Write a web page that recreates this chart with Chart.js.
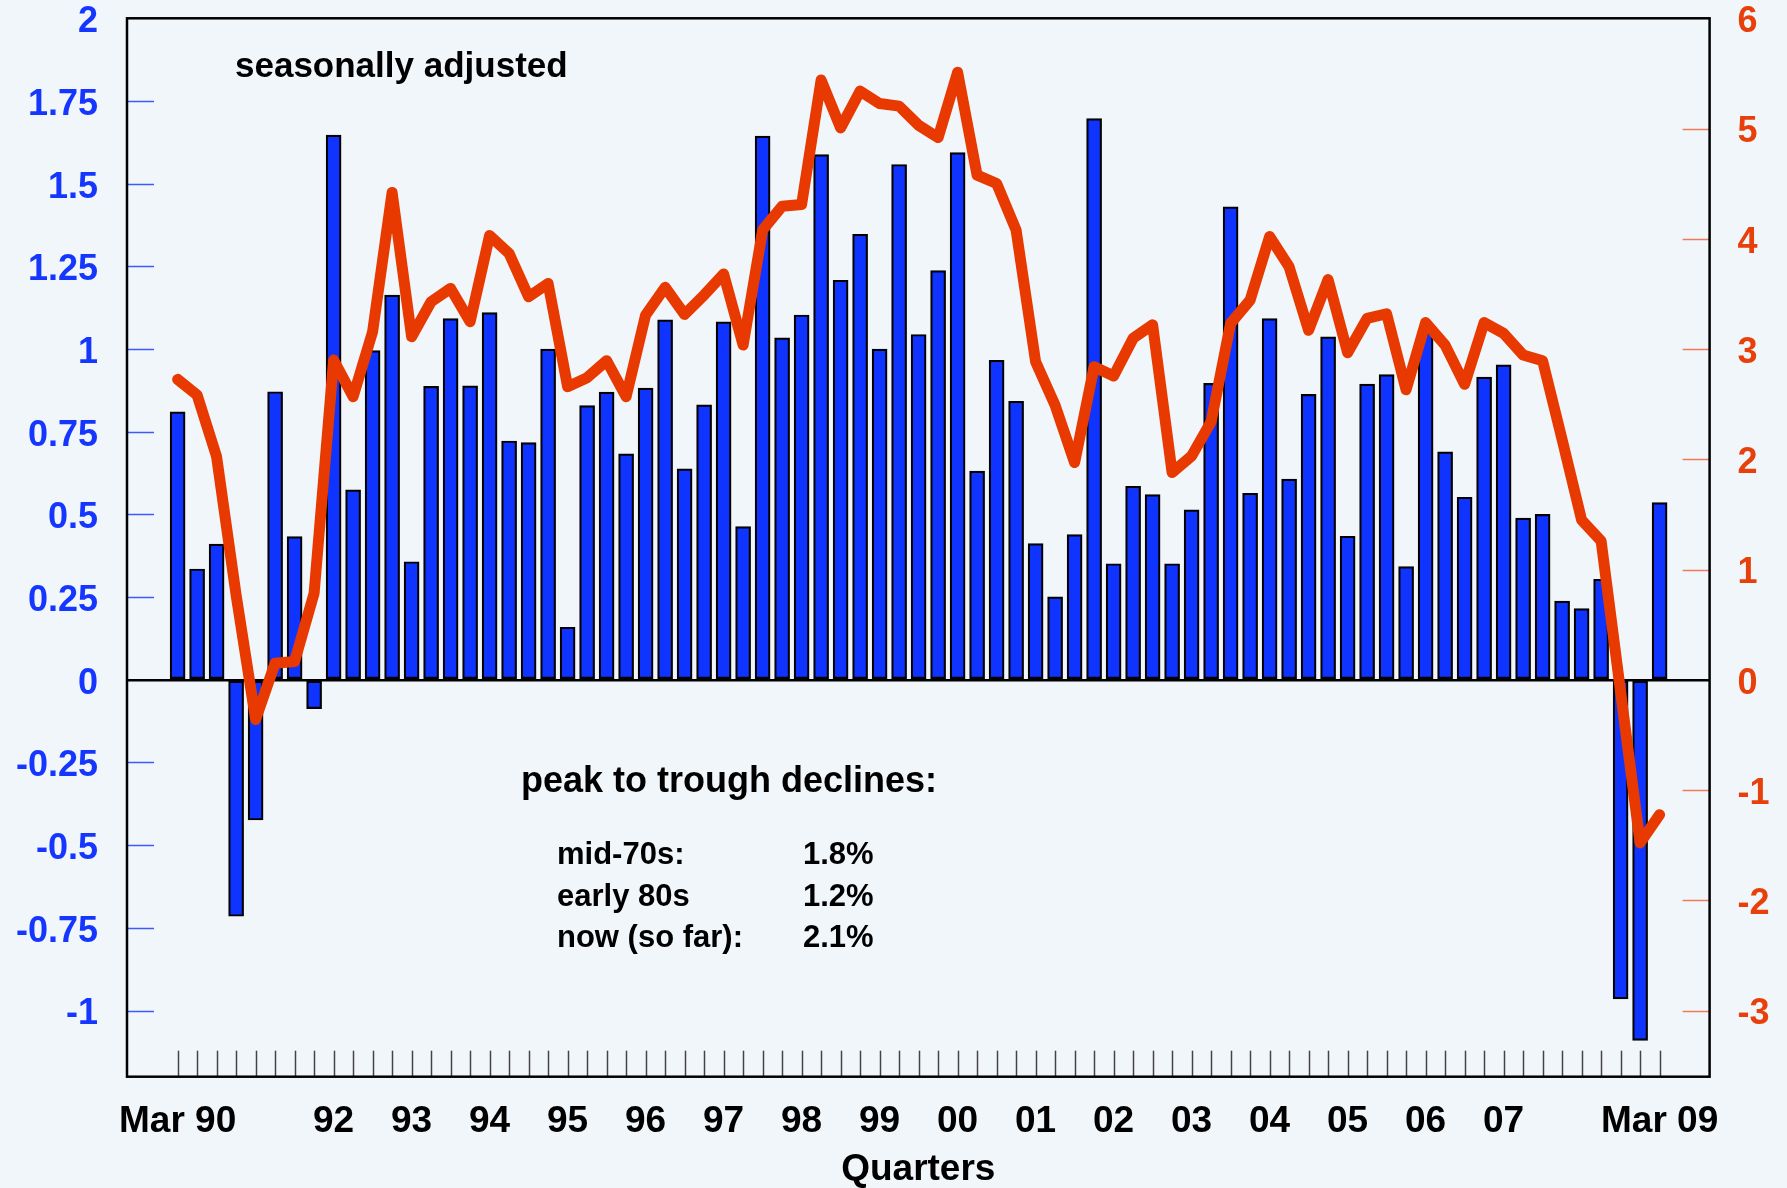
<!DOCTYPE html>
<html>
<head>
<meta charset="utf-8">
<script src="https://cdn.jsdelivr.net/npm/chart.js@4/dist/chart.umd.min.js"></script>
<style>
html,body{margin:0;padding:0;background:#f1f6fb;}
#wrap{width:1787px;height:1188px;position:relative;}
</style>
</head>
<body>
<div id="wrap"><canvas id="c" width="1787" height="1188"></canvas></div>
<script>
// ---- categories (quarters) ----
const quarters = [
 'Mar 90','Jun 90','Sep 90','Dec 90','Mar 91','Jun 91','Sep 91','Dec 91',
 'Mar 92','Jun 92','Sep 92','Dec 92','Mar 93','Jun 93','Sep 93','Dec 93',
 'Mar 94','Jun 94','Sep 94','Dec 94','Mar 95','Jun 95','Sep 95','Dec 95',
 'Mar 96','Jun 96','Sep 96','Dec 96','Mar 97','Jun 97','Sep 97','Dec 97',
 'Mar 98','Jun 98','Sep 98','Dec 98','Mar 99','Jun 99','Sep 99','Dec 99',
 'Mar 00','Jun 00','Sep 00','Dec 00','Mar 01','Jun 01','Sep 01','Dec 01',
 'Mar 02','Jun 02','Sep 02','Dec 02','Mar 03','Jun 03','Sep 03','Dec 03',
 'Mar 04','Jun 04','Sep 04','Dec 04','Mar 05','Jun 05','Sep 05','Dec 05',
 'Mar 06','Jun 06','Sep 06','Dec 06','Mar 07','Jun 07','Sep 07','Dec 07',
 'Mar 08','Jun 08','Sep 08','Dec 08','Mar 09'
];

// ---- quarterly growth (%), left axis, bars ----
const quarterlyGrowth = [
 0.81, 0.335, 0.41, -0.715, -0.424, 0.871, 0.433, -0.087,
 1.647, 0.574, 0.995, 1.163, 0.357, 0.887, 1.092, 0.889,
 1.11, 0.722, 0.717, 1.0, 0.159, 0.829, 0.870, 0.683,
 0.882, 1.088, 0.638, 0.831, 1.082, 0.463, 1.644, 1.034,
 1.103, 1.588, 1.208, 1.347, 1.0, 1.558, 1.044, 1.237,
 1.594, 0.631, 0.966, 0.842, 0.412, 0.251, 0.439, 1.697,
 0.351, 0.585, 0.560, 0.351, 0.514, 0.896, 1.43, 0.564,
 1.092, 0.607, 0.863, 1.037, 0.434, 0.894, 0.923, 0.342,
 1.05, 0.689, 0.552, 0.915, 0.952, 0.489, 0.50, 0.238,
 0.215, 0.304, -0.965, -1.09, 0.536
];

// ---- annual growth (%), right axis, line ----
const annualGrowth = [
 2.725, 2.583, 2.024, 0.77, -0.36, 0.151, 0.166, 0.786,
 2.90, 2.568, 3.157, 4.42, 3.112, 3.429, 3.55, 3.248,
 4.03, 3.867, 3.474, 3.595, 2.659, 2.74, 2.894, 2.568,
 3.308, 3.56, 3.314, 3.49, 3.68, 3.036, 4.079, 4.296,
 4.311, 5.44, 5.006, 5.34, 5.227, 5.203, 5.03, 4.918,
 5.51, 4.577, 4.502, 4.079, 2.885, 2.49, 1.97, 2.84,
 2.755, 3.097, 3.22, 1.88, 2.03, 2.341, 3.233, 3.444,
 4.02, 3.746, 3.17, 3.63, 2.967, 3.278, 3.32, 2.63,
 3.24, 3.036, 2.68, 3.24, 3.142, 2.946, 2.894, 2.18,
 1.45, 1.26, -0.11, -1.48, -1.224
];

// ---- tick definitions ----
const xTickIndex  = [0, 8, 12, 16, 20, 24, 28, 32, 36, 40, 44, 48, 52, 56, 60, 64, 68, 76];
const xTickLabels = ['Mar 90','92','93','94','95','96','97','98','99','00','01','02','03','04','05','06','07','Mar 09'];
const leftTickValues = [-1, -0.75, -0.5, -0.25, 0, 0.25, 0.5, 0.75, 1, 1.25, 1.5, 1.75, 2];
const leftTickLabels = ['-1','-0.75','-0.5','-0.25','0','0.25','0.5','0.75','1','1.25','1.5','1.75','2'];
const rightTickValues = [-3, -2, -1, 0, 1, 2, 3, 4, 5, 6];
const rightTickLabels = ['-3','-2','-1','0','1','2','3','4','5','6'];

// ---- annotation text ----
const noteTitle = 'seasonally adjusted';
const declinesTitle = 'peak to trough declines:';
const declinePeriods = ['mid-70s:', 'early 80s', 'now (so far):'];
const declineValues = ['1.8%', '1.2%', '2.1%'];

const FONT = '"Liberation Sans", Arial, Helvetica, sans-serif';
const BLUE = '#1034ff';
const RED = '#e83a00';

const bgPlugin = {
  id: 'bg',
  beforeDraw(chart) {
    const ctx = chart.ctx;
    ctx.save();
    ctx.fillStyle = '#f1f6fb';
    ctx.fillRect(0, 0, chart.width, chart.height);
    ctx.restore();
  }
};

const innerTicks = {
  id: 'innerTicks',
  beforeDatasetsDraw(chart) {
    const {ctx, chartArea: a, scales} = chart;
    ctx.save();
    ctx.lineWidth = 1.5;
    ctx.strokeStyle = '#3a5cff';
    scales.y.ticks.forEach(t => {
      if (t.value === 0 || t.value === 2) return;
      const y = Math.round(scales.y.getPixelForValue(t.value)) + 0.5;
      ctx.beginPath(); ctx.moveTo(a.left, y); ctx.lineTo(a.left + 27, y); ctx.stroke();
    });
    ctx.strokeStyle = '#f07a5a';
    scales.y2.ticks.forEach(t => {
      if (t.value === 0 || t.value === 6) return;
      const y = Math.round(scales.y2.getPixelForValue(t.value)) + 0.5;
      ctx.beginPath(); ctx.moveTo(a.right, y); ctx.lineTo(a.right - 27, y); ctx.stroke();
    });
    ctx.strokeStyle = '#444';
    quarters.forEach((q, i) => {
      const x = Math.round(scales.x.getPixelForValue(i)) + 0.5;
      ctx.beginPath(); ctx.moveTo(x, a.bottom); ctx.lineTo(x, a.bottom - 26); ctx.stroke();
    });
    ctx.restore();
  },
  afterDatasetsDraw(chart) {
    const {ctx, chartArea: a} = chart;
    ctx.save();
    ctx.strokeStyle = '#000';
    ctx.lineWidth = 2.5;
    ctx.strokeRect(a.left, a.top, a.right - a.left, a.bottom - a.top);
    ctx.restore();
  }
};

const notes = {
  id: 'notes',
  afterDraw(chart) {
    const ctx = chart.ctx;
    ctx.save();
    ctx.fillStyle = '#000';
    ctx.textBaseline = 'alphabetic';
    ctx.textAlign = 'left';
    ctx.font = 'bold 35px ' + FONT;
    ctx.fillText(noteTitle, 235, 77);
    ctx.font = 'bold 36px ' + FONT;
    ctx.fillText(declinesTitle, 521, 792);
    ctx.font = 'bold 31px ' + FONT;
    const base = [864, 905.5, 947];
    declinePeriods.forEach((p, k) => {
      ctx.fillText(p, 557, base[k]);
      ctx.fillText(declineValues[k], 803, base[k]);
    });
    ctx.restore();
  }
};

function fixVertical(w) {
  return s => { s.width = w; s.paddingTop = 0; s.paddingBottom = 0; };
}

new Chart(document.getElementById('c'), {
  type: 'bar',
  data: {
    datasets: [
      {
        type: 'line',
        label: 'annual',
        data: annualGrowth.map((v, i) => ({x: i, y: v})),
        yAxisID: 'y2',
        xAxisID: 'x',
        borderColor: RED,
        borderWidth: 11,
        borderCapStyle: 'round',
        borderJoinStyle: 'round',
        pointRadius: 0,
        tension: 0,
        fill: false,
        order: 0
      },
      {
        type: 'bar',
        label: 'quarterly',
        data: quarterlyGrowth.map((v, i) => ({x: i, y: v})),
        yAxisID: 'y',
        xAxisID: 'x',
        backgroundColor: BLUE,
        borderColor: '#000',
        borderWidth: 2.2,
        borderSkipped: false,
        barThickness: 15,
        order: 1
      }
    ]
  },
  options: {
    responsive: false,
    animation: false,
    devicePixelRatio: 1,
    layout: { padding: { top: 18.3, left: 0, right: 0, bottom: 0 } },
    plugins: { legend: { display: false }, tooltip: { enabled: false }, title: { display: false } },
    scales: {
      x: {
        type: 'linear',
        position: 'bottom',
        min: -2.595,
        max: 78.564,
        offset: false,
        grid: { display: false, drawTicks: false },
        border: { display: false },
        afterFit: s => { s.height = 111.3; s.paddingLeft = 0; s.paddingRight = 0; },
        afterBuildTicks: s => { s.ticks = xTickIndex.map(v => ({value: v})); },
        ticks: {
          autoSkip: false, maxRotation: 0, minRotation: 0, padding: 23,
          color: '#000',
          font: { family: FONT, size: 37, weight: 'bold' },
          callback: (v, i) => xTickLabels[i]
        },
        title: {
          display: true, text: 'Quarters', color: '#000',
          font: { family: FONT, size: 37, weight: 'bold', lineHeight: 1 },
          padding: { top: 0, bottom: 0 }
        }
      },
      y: {
        type: 'linear',
        position: 'left',
        min: -1.2,
        max: 2,
        afterFit: fixVertical(127),
        afterBuildTicks: s => { s.ticks = leftTickValues.map(v => ({value: v})); },
        grid: {
          drawTicks: false,
          color: c => (c.tick && c.tick.value === 0) ? '#000' : 'rgba(0,0,0,0)',
          lineWidth: c => (c.tick && c.tick.value === 0) ? 2.5 : 1
        },
        border: { display: false },
        ticks: {
          padding: 29, labelOffset: 4,
          color: '#1436ff',
          font: { family: FONT, size: 36, weight: 'bold' },
          callback: (v, i) => leftTickLabels[i]
        }
      },
      y2: {
        type: 'linear',
        position: 'right',
        min: -3.6,
        max: 6,
        afterFit: fixVertical(77.4),
        afterBuildTicks: s => { s.ticks = rightTickValues.map(v => ({value: v})); },
        grid: { display: false, drawTicks: false },
        border: { display: false },
        ticks: {
          padding: 28, labelOffset: 4,
          color: '#e8400a',
          font: { family: FONT, size: 36, weight: 'bold' },
          callback: (v, i) => rightTickLabels[i]
        }
      }
    }
  },
  plugins: [bgPlugin, innerTicks, notes]
});
</script>
</body>
</html>
